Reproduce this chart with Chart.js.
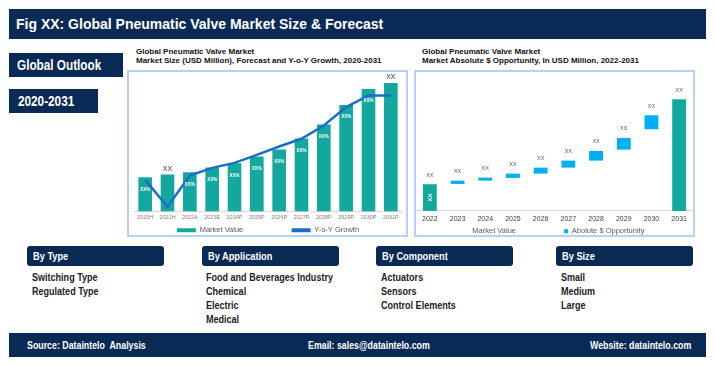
<!DOCTYPE html>
<html>
<head>
<meta charset="utf-8">
<script src="https://cdn.jsdelivr.net/npm/chart.js@4.4.1/dist/chart.umd.min.js"></script>
<style>
  body { margin: 0; background: #fff; }
  #page { position: relative; width: 715px; height: 366px; overflow: hidden; font-family: "Liberation Sans", Arial, sans-serif; }
  .navy { position: absolute; background: #0a2a56; color: #fff; font-weight: bold; box-sizing: border-box; white-space: nowrap; }
  /* no narrow face installed, so squeeze the regular one */
  .sq { display: inline-block; transform: scaleX(0.84); transform-origin: left center; }
  .ctitle { position: absolute; font-size: 8px; font-weight: bold; line-height: 8.5px; color: #111; white-space: nowrap; }
  .frame { position: absolute; border: 2px solid #b7d0f7; box-sizing: border-box; }
  .seg { position: absolute; top: 246px; width: 137px; height: 20px; line-height: 20px; padding-left: 6px; font-size: 11px; border-radius: 3px; }
  .items { position: absolute; top: 270px; font-size: 10.5px; line-height: 14px; color: #222; font-weight: bold; white-space: nowrap; transform: scaleX(0.86); transform-origin: left top; }
  canvas { position: absolute; }
</style>
</head>
<body>
<div id="page">
  <div class="navy" style="left:9px;top:9px;width:697px;height:30px;line-height:30px;padding-left:7px;font-size:14px;">Fig XX: Global Pneumatic Valve Market Size &amp; Forecast</div>
  <div class="navy" style="left:9px;top:53px;width:114px;height:24px;line-height:24px;padding-left:8px;font-size:14px;"><span class="sq">Global Outlook</span></div>
  <div class="navy" style="left:9px;top:89px;width:89px;height:24px;line-height:24px;padding-left:9px;font-size:14px;"><span class="sq">2020-2031</span></div>

  <div class="ctitle" style="left:136px;top:48px;">Global Pneumatic Valve Market<br>Market Size (USD Million), Forecast and Y-o-Y Growth, 2020-2031</div>
  <div class="ctitle" style="left:422px;top:48px;">Global Pneumatic Valve Market<br>Market Absolute $ Opportunity, In USD Million, 2022-2031</div>

  <div class="frame" style="left:127px;top:70px;width:281px;height:167px;"></div>
  <div class="frame" style="left:414px;top:70px;width:281px;height:167px;"></div>
  <canvas id="sizeChart" style="left:129px;top:68px;width:277px;height:176px;" width="277" height="176"></canvas>
  <canvas id="oppChart" style="left:416px;top:68px;width:277px;height:177px;" width="277" height="177"></canvas>

  <div class="navy seg" style="left:27px;"><span class="sq">By Type</span></div>
  <div class="navy seg" style="left:202px;"><span class="sq">By Application</span></div>
  <div class="navy seg" style="left:376px;"><span class="sq">By Component</span></div>
  <div class="navy seg" style="left:556px;"><span class="sq">By Size</span></div>
  <div class="items" style="left:32px;">Switching Type<br>Regulated Type</div>
  <div class="items" style="left:206px;">Food and Beverages Industry<br>Chemical<br>Electric<br>Medical</div>
  <div class="items" style="left:381px;">Actuators<br>Sensors<br>Control Elements</div>
  <div class="items" style="left:561px;">Small<br>Medium<br>Large</div>

  <div class="navy" style="left:9px;top:333px;width:697px;height:24px;line-height:24px;font-size:10.5px;">
    <span class="sq" style="position:absolute;left:18px;">Source: Dataintelo&nbsp; Analysis</span>
    <span class="sq" style="position:absolute;left:299px;">Email: sales@dataintelo.com</span>
    <span class="sq" style="position:absolute;left:581px;">Website: dataintelo.com</span>
  </div>
</div>
<script>
// left chart: market size + y-o-y growth (arbitrary units)
const sizeYears = ['2020H', '2021H', '2022A', '2023E', '2024P', '2025P', '2026P', '2027P', '2028P', '2029P', '2030P', '2031P'];
const marketValue = [34, 36.7, 39, 43.7, 48, 54.7, 61.7, 72.7, 86.7, 106, 122, 128];
const yoyGrowth = [31.4, 4.7, 35.7, 43.4, 48.4, 56.4, 64.7, 72.4, 85.7, 104, 115.7, 115.7];
const insideTags = ['XX%', '', 'XX%', 'XX%', 'XX%', 'XX%', 'XX%', 'XX%', 'XX%', 'XX%', 'XX%', ''];
const aboveTags = ['', 'XX', '', '', '', '', '', '', '', '', '', 'XX'];

// right chart: absolute $ opportunity waterfall
const oppYears = ['2022', '2023', '2024', '2025', '2026', '2027', '2028', '2029', '2030', '2031'];
const baseValue = [26.7, null, null, null, null, null, null, null, null, 111.7];
const opportunity = [null, [27, 30.3], [30.3, 33.3], [33, 37.3], [37.3, 43.3], [43.3, 50.3], [50.3, 60], [61.3, 73], [81.7, 95.7], null];
const oppTags = ['XX', 'XX', 'XX', 'XX', 'XX', 'XX', 'XX', 'XX', 'XX', 'XX'];

const TEAL = '#13a89e';
const BLUE_LINE = '#1b6ec6';
const CYAN = '#00b0f0';

Chart.defaults.font.family = '"Liberation Sans", Arial, sans-serif';
Chart.defaults.animation = false;
Chart.defaults.plugins.tooltip.enabled = false;

const defaultLabels = Chart.defaults.plugins.legend.labels.generateLabels;

const sizeTagsPlugin = {
    id: 'sizeTags',
    afterDatasetsDraw(chart) {
        const ctx = chart.ctx;
        const bars = chart.getDatasetMeta(1).data;
        ctx.save();
        ctx.textAlign = 'center';
        ctx.textBaseline = 'middle';
        bars.forEach((bar, i) => {
            if (insideTags[i]) {
                ctx.fillStyle = '#ffffff';
                ctx.font = 'bold 4.5px "Liberation Sans", Arial';
                ctx.fillText(insideTags[i], bar.x, bar.y + 12);
            }
            if (aboveTags[i]) {
                ctx.fillStyle = '#333333';
                ctx.font = '7px "Liberation Sans", Arial';
                ctx.fillText(aboveTags[i], bar.x, bar.y - 6);
            }
        });
        ctx.restore();
    }
};

new Chart(document.getElementById('sizeChart'), {
    data: {
        labels: sizeYears,
        datasets: [{
            type: 'line',
            label: 'Y-o-Y Growth',
            data: yoyGrowth,
            borderColor: BLUE_LINE,
            backgroundColor: BLUE_LINE,
            borderWidth: 2.5,
            pointRadius: 0,
            tension: 0,
            order: 0
        }, {
            type: 'bar',
            label: 'Market Value',
            data: marketValue,
            backgroundColor: TEAL,
            categoryPercentage: 1,
            barPercentage: 0.61,
            order: 1
        }]
    },
    options: {
        responsive: false,
        layout: { padding: { left: 5, right: 4, top: 0, bottom: 0 } },
        scales: {
            x: {
                grid: { display: false, drawTicks: false },
                border: { display: true, color: '#d9d9d9' },
                ticks: { color: '#7f7f7f', font: { size: 5.5 }, padding: 3, maxRotation: 0, autoSkip: false }
            },
            y: { display: false, min: 0, max: 143 }
        },
        plugins: {
            legend: {
                position: 'bottom',
                reverse: true,
                labels: {
                    color: '#595959',
                    font: { size: 7.5 },
                    boxWidth: 19,
                    boxHeight: 4,
                    padding: 2.5,
                    generateLabels(chart) {
                        const items = defaultLabels(chart);
                        items.forEach(it => { it.lineWidth = 0; });
                        const mv = items.find(it => it.text === 'Market Value');
                        mv.text += ' '.repeat(22);
                        return items;
                    }
                }
            }
        }
    },
    plugins: [sizeTagsPlugin]
});

const oppTagsPlugin = {
    id: 'oppTags',
    afterDatasetsDraw(chart) {
        const ctx = chart.ctx;
        const baseBars = chart.getDatasetMeta(0).data;
        const oppBars = chart.getDatasetMeta(1).data;
        ctx.save();
        ctx.textAlign = 'center';
        ctx.textBaseline = 'middle';
        oppYears.forEach((y, i) => {
            const bar = baseValue[i] !== null ? baseBars[i] : oppBars[i];
            const top = Math.min(bar.y, bar.base);
            ctx.fillStyle = '#595959';
            ctx.font = '5.5px "Liberation Sans", Arial';
            ctx.fillText(oppTags[i], bar.x, top - 9);
        });
        // value written sideways inside the first bar
        const first = baseBars[0];
        ctx.translate(first.x, (first.y + first.base) / 2);
        ctx.rotate(-Math.PI / 2);
        ctx.fillStyle = '#ffffff';
        ctx.font = 'bold 6px "Liberation Sans", Arial';
        ctx.fillText('XX', 0, 0);
        ctx.restore();
    }
};

new Chart(document.getElementById('oppChart'), {
    type: 'bar',
    data: {
        labels: oppYears,
        datasets: [{
            label: 'Market Value',
            data: baseValue,
            backgroundColor: TEAL,
            categoryPercentage: 1,
            barPercentage: 0.5
        }, {
            label: 'Abolute $ Opportunity',
            data: opportunity,
            backgroundColor: CYAN,
            categoryPercentage: 1,
            barPercentage: 0.5
        }]
    },
    options: {
        responsive: false,
        layout: { padding: 0 },
        scales: {
            x: {
                stacked: true,
                grid: { display: false, drawTicks: false },
                border: { display: true, color: '#d9d9d9' },
                ticks: { color: '#404040', font: { size: 7 }, padding: 4, maxRotation: 0, autoSkip: false }
            },
            y: { display: false, min: 0, max: 143 }
        },
        plugins: {
            legend: {
                position: 'bottom',
                labels: {
                    color: '#595959',
                    font: { size: 7.5 },
                    boxWidth: 4,
                    boxHeight: 4,
                    padding: 0.2,
                    generateLabels(chart) {
                        const items = defaultLabels(chart);
                        items[0].fillStyle = 'rgba(0,0,0,0)';
                        items[0].text += ' '.repeat(23);
                        items.forEach(it => { it.lineWidth = 0; });
                        return items;
                    }
                }
            }
        }
    },
    plugins: [oppTagsPlugin]
});
</script>
</body>
</html>
